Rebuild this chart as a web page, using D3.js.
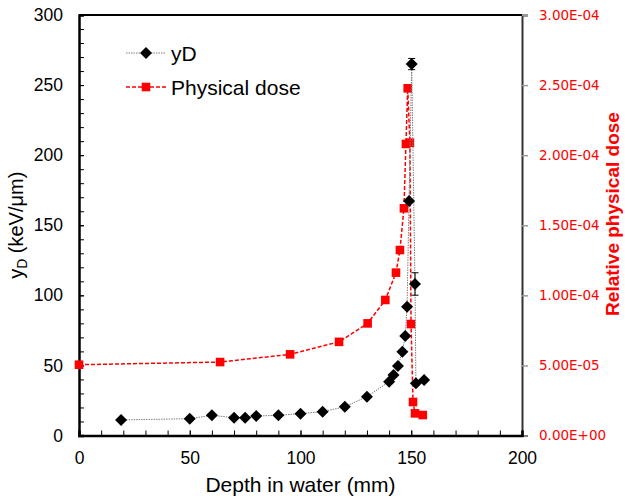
<!DOCTYPE html>
<html>
<head>
<meta charset="utf-8">
<script src="https://cdn.jsdelivr.net/npm/d3@7"></script>
<style>
  body { margin: 0; background: #fff; }
  svg { display: block; }
  text { font-family: "Liberation Sans", Arial, sans-serif; }
</style>
</head>
<body>
<svg id="chart" width="625" height="499"></svg>
<script>
// Lineal energy (dose-mean) versus depth
const depthYD = [19, 50, 60, 70, 75, 80, 90, 100, 110, 120, 130, 140, 142, 144, 146, 147.3, 148.1, 149, 150.2, 151.7, 152.1, 155.8];
const yD      = [11.1, 12.0, 14.4, 12.7, 12.7, 13.9, 14.4, 15.6, 17.0, 20.5, 27.7, 38.4, 43.2, 49.6, 59.8, 71.0, 91.9, 167.3, 265.0, 108.1, 37.2, 39.6];
const yDErr   = [0, 0, 0, 0, 0, 0, 0, 0, 0, 0, 0, 0, 0, 0, 0, 0, 0, 0, 4, 8, 0, 0];

// Relative physical dose versus depth
const depthDose = [0, 63.7, 95.3, 117.4, 130.3, 138.3, 143.1, 144.9, 146.7, 147.6, 148.4, 149.4, 149.9, 150.8, 151.7, 155.2];
const dose      = [5.05e-5, 5.24e-5, 5.79e-5, 6.68e-5, 8.0e-5, 9.67e-5, 1.162e-4, 1.323e-4, 1.621e-4, 2.08e-4, 2.477e-4, 2.089e-4, 7.95e-5, 2.39e-5, 1.58e-5, 1.46e-5];

// Axis ticks
const xTicks      = [0, 50, 100, 150, 200];
const xMinorTicks = d3.range(0, 201, 10);
const yTicks      = [0, 50, 100, 150, 200, 250, 300];
const yMinorTicks = d3.range(0, 301, 10);
const doseTicks   = [0, 5e-5, 1e-4, 1.5e-4, 2e-4, 2.5e-4, 3e-4];

const svg = d3.select("#chart");
const box = { left: 79, right: 522, top: 15, bottom: 435.5 };

const x  = d3.scaleLinear().domain([0, 200]).range([box.left, box.right]);
const yL = d3.scaleLinear().domain([0, 300]).range([box.bottom, box.top]);
const yR = d3.scaleLinear().domain([0, 3e-4]).range([box.bottom, box.top]);

// Scientific labels like 2.50E-04
function sci(v) {
  if (v === 0) return "0.00E+00";
  const [m, e] = d3.format(".2e")(v).split("e");
  const n = +e;
  return m + "E" + (n < 0 ? "-" : "+") + String(Math.abs(n)).padStart(2, "0");
}

// Frame: top border
svg.append("line")
  .attr("x1", box.left).attr("x2", box.right)
  .attr("y1", box.top).attr("y2", box.top)
  .attr("stroke", "#000").attr("stroke-width", 2);

// Right axis (dose)
const gR = svg.append("g").attr("transform", `translate(${box.right},0)`)
  .call(d3.axisRight(yR).tickValues(doseTicks).tickSize(6).tickPadding(11).tickFormat(sci));
gR.select(".domain").attr("stroke", "#333").attr("stroke-width", 2);
gR.selectAll(".tick line").attr("stroke", "#999").attr("stroke-width", 1.5);
gR.selectAll(".tick text")
  .attr("fill", "#ff0000")
  .style("font-family", "'DejaVu Sans', sans-serif")
  .style("font-size", "13.5px");

// Left axis (yD)
const gLm = svg.append("g").attr("transform", `translate(${box.left},0)`)
  .call(d3.axisLeft(yL).tickValues(yMinorTicks).tickSize(-5).tickFormat(""));
gLm.select(".domain").remove();
gLm.selectAll(".tick line").attr("stroke", "#000").attr("stroke-width", 1);

const gL = svg.append("g").attr("transform", `translate(${box.left},0)`)
  .call(d3.axisLeft(yL).tickValues(yTicks).tickSize(-5).tickPadding(16));
gL.select(".domain").attr("stroke", "#000").attr("stroke-width", 2.5);
gL.selectAll(".tick line").attr("stroke", "#000").attr("stroke-width", 1);
gL.selectAll(".tick text").attr("fill", "#000").style("font-size", "17.5px");

// Bottom axis (depth)
const gBm = svg.append("g").attr("transform", `translate(0,${box.bottom})`)
  .call(d3.axisBottom(x).tickValues(xMinorTicks).tickSize(-5).tickFormat(""));
gBm.select(".domain").remove();
gBm.selectAll(".tick line").attr("stroke", "#000").attr("stroke-width", 1);

const gB = svg.append("g").attr("transform", `translate(0,${box.bottom})`)
  .call(d3.axisBottom(x).tickValues(xTicks).tickSize(-5).tickPadding(16));
gB.select(".domain").attr("stroke", "#000").attr("stroke-width", 2.5);
gB.selectAll(".tick line").attr("stroke", "#000").attr("stroke-width", 1);
gB.selectAll(".tick text").attr("fill", "#000").style("font-size", "17.5px");

// Axis titles
svg.append("text")
  .attr("x", (box.left + box.right) / 2).attr("y", 492)
  .attr("text-anchor", "middle")
  .style("font-size", "21px")
  .text("Depth in water (mm)");

const tL = svg.append("text")
  .attr("transform", `translate(23,${(box.top + box.bottom) / 2}) rotate(-90)`)
  .attr("text-anchor", "middle")
  .style("font-size", "20px");
tL.append("tspan").text("y");
tL.append("tspan").attr("dy", 4).style("font-size", "14px").text("D");
tL.append("tspan").attr("dy", -4).text(" (keV/\u03bcm)");

svg.append("text")
  .attr("transform", `translate(619,214) rotate(-90)`)
  .attr("text-anchor", "middle")
  .attr("fill", "#ff0000")
  .style("font-size", "19px")
  .style("font-weight", "bold")
  .text("Relative physical dose");

// Markers
const diamond = s => `M0,${-s}L${s},0L0,${s}L${-s},0Z`;
const square  = s => `M${-s},${-s}H${s}V${s}H${-s}Z`;

// Physical dose series
const doseData = depthDose.map((d, i) => ({ d, v: dose[i] }));
svg.append("path")
  .datum(doseData)
  .attr("fill", "none")
  .attr("stroke", "#ff0000")
  .attr("stroke-width", 1.5)
  .attr("stroke-dasharray", "4,2")
  .attr("d", d3.line().x(p => x(p.d)).y(p => yR(p.v)));
svg.append("g").selectAll("path")
  .data(doseData).join("path")
  .attr("transform", p => `translate(${x(p.d)},${yR(p.v)})`)
  .attr("d", square(4.3))
  .attr("fill", "#ff0000");

// yD series
const ydData = depthYD.map((d, i) => ({ d, v: yD[i], e: yDErr[i] }));
svg.append("path")
  .datum(ydData)
  .attr("fill", "none")
  .attr("stroke", "#7f7f7f")
  .attr("stroke-width", 1)
  .attr("stroke-dasharray", "1.5,1")
  .attr("d", d3.line().x(p => x(p.d)).y(p => yL(p.v)));

const err = svg.append("g").attr("stroke", "#000").attr("stroke-width", 1)
  .selectAll("g").data(ydData.filter(p => p.e > 0)).join("g");
err.append("line")
  .attr("x1", p => x(p.d)).attr("x2", p => x(p.d))
  .attr("y1", p => yL(p.v - p.e)).attr("y2", p => yL(p.v + p.e));
err.append("line")
  .attr("x1", p => x(p.d) - 3.5).attr("x2", p => x(p.d) + 3.5)
  .attr("y1", p => yL(p.v + p.e)).attr("y2", p => yL(p.v + p.e));
err.append("line")
  .attr("x1", p => x(p.d) - 3.5).attr("x2", p => x(p.d) + 3.5)
  .attr("y1", p => yL(p.v - p.e)).attr("y2", p => yL(p.v - p.e));

svg.append("g").selectAll("path")
  .data(ydData).join("path")
  .attr("transform", p => `translate(${x(p.d)},${yL(p.v)})`)
  .attr("d", diamond(6))
  .attr("fill", "#000");

// Legend
const legend = [
  { label: "yD", color: "#7f7f7f", dash: "1.5,1", width: 1, mark: diamond(6), fill: "#000" },
  { label: "Physical dose", color: "#ff0000", dash: "4,2", width: 1.5, mark: square(4.3), fill: "#ff0000" }
];
const lg = svg.append("g").selectAll("g").data(legend).join("g")
  .attr("transform", (l, i) => `translate(126,${53 + i * 34})`);
lg.append("line")
  .attr("x1", 0).attr("x2", 40)
  .attr("stroke", l => l.color)
  .attr("stroke-width", l => l.width)
  .attr("stroke-dasharray", l => l.dash);
lg.append("path")
  .attr("transform", "translate(20,0)")
  .attr("d", l => l.mark)
  .attr("fill", l => l.fill);
lg.append("text")
  .attr("x", 45).attr("dy", "0.36em")
  .style("font-size", "21px")
  .text(l => l.label);
</script>
</body>
</html>
